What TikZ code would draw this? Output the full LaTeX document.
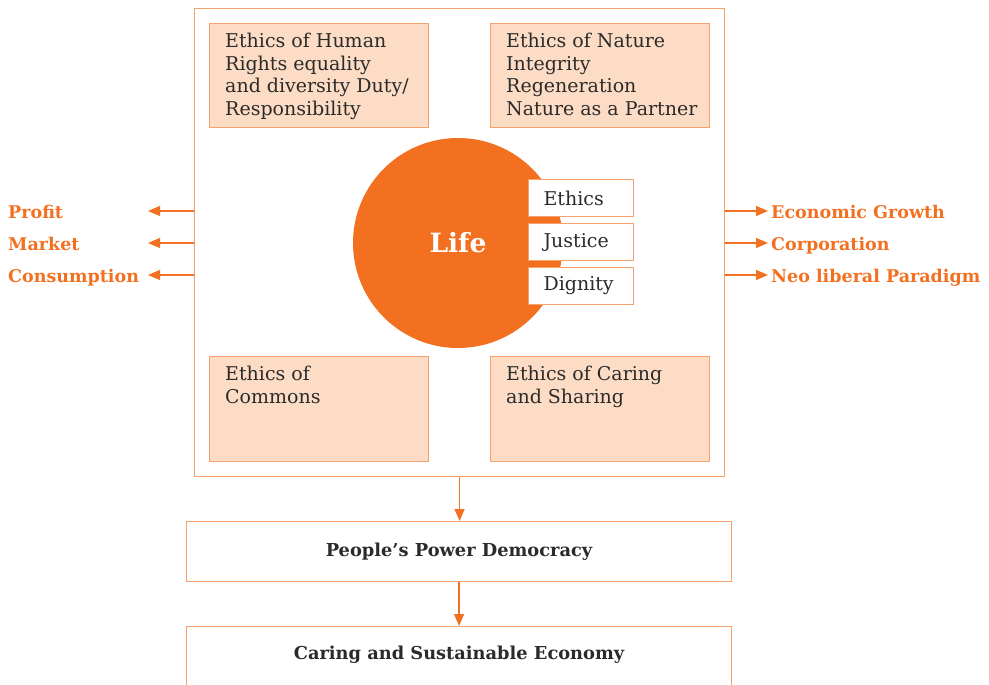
\documentclass[tikz,border=0pt]{standalone}
\usepackage{fontspec}
\setmainfont{DejaVu Serif}
\usetikzlibrary{arrows.meta,positioning}
\definecolor{org}{HTML}{F37021}
\definecolor{edge}{HTML}{F5A26E}
\definecolor{peach}{HTML}{FDDCC5}
\definecolor{ink}{HTML}{2B2B2B}
\tikzset{
  peachbox/.style={draw=edge,fill=peach,line width=1.1pt,minimum width=219pt,minimum height=104pt,anchor=north west,inner sep=0pt},
  boxtxt/.style={anchor=north west,align=left,inner sep=0pt,text=ink,font=\fontsize{19}{22.5}\selectfont},
  tagbox/.style={draw=edge,fill=white,line width=1.1pt,text width=75pt,inner xsep=15pt,inner ysep=0pt,minimum height=37pt,anchor=north west,align=left,text=ink,font=\fontsize{19}{22}\selectfont},
  sidelbl/.style={inner sep=0pt,text=org,font=\bfseries\fontsize{17.5}{22}\selectfont},
  stepbox/.style={draw=edge,fill=white,line width=1.1pt,minimum width=545pt,anchor=north west,inner sep=0pt,text=ink,font=\bfseries\fontsize{17.8}{20}\selectfont},
  arr/.style={draw=org,line width=1.3pt,-{Triangle[length=12pt,width=10pt]}}
}
\begin{document}
\begin{tikzpicture}[x=1pt,y=-1pt]
  \useasboundingbox (0,0) rectangle (989,685);
  % frame and the four ethics
  \node[draw=edge,line width=1.1pt,minimum width=530pt,minimum height=468pt,anchor=north west,inner sep=0pt] (outer) at (194,8) {};
  \node[peachbox] (hum) at (209,23) {};
  \node[peachbox] (nat) at (490,23) {};
  \node[peachbox,minimum height=105pt] (com) at (209,356) {};
  \node[peachbox,minimum height=105pt] (car) at (490,356) {};
  \node[boxtxt] (humtxt) at (225,33) {Ethics of Human\\Rights equality\\and diversity Duty/\\Responsibility};
  \node[boxtxt] (nattxt) at (506,33) {Ethics of Nature\\Integrity\\Regeneration\\Nature as a Partner};
  \node[boxtxt] (comtxt) at (225,366) {Ethics of\\Commons};
  \node[boxtxt] (cartxt) at (506,366) {Ethics of Caring\\and Sharing};
  % life
  \node[circle,fill=org,minimum size=210pt,inner sep=0pt] (life) at (458,243) {};
  \node[text=white,font=\bfseries\fontsize{26.5}{30}\selectfont] (lifetxt) at (458,243) {Life};
  \foreach \y/\t [count=\i] in {179/Ethics,223/Justice,267/Dignity}
    \node[tagbox] (tag\i) at (528,\y) {\t};
  % side arrows
  \foreach \y/\t [count=\i] in {211/Profit,243/Market,275/Consumption}{
    \coordinate (lt\i) at (148,\y);
    \draw[arr] (outer.west|-lt\i) -- (lt\i);
    \node[sidelbl,anchor=base west] (ll\i) at (8,\y+7) {\t};
  }
  \foreach \y/\t [count=\i] in {211/Economic Growth,243/Corporation,275/Neo liberal Paradigm}{
    \coordinate (rt\i) at (768,\y);
    \draw[arr] (outer.east|-rt\i) -- (rt\i);
    \node[sidelbl,anchor=base west] (rl\i) at (771,\y+7) {\t};
  }
  % the way down
  \node[stepbox,minimum height=60pt] (ppd) at (186,521) {People’s Power Democracy};
  \node[stepbox,minimum height=76pt,text depth=24pt] (cse) at (186,626) {Caring and Sustainable Economy};
  \draw[arr] (outer.south) -- (outer.south|-ppd.north);
  \draw[arr] (ppd.south) -- (cse.north);
\end{tikzpicture}
\end{document}
